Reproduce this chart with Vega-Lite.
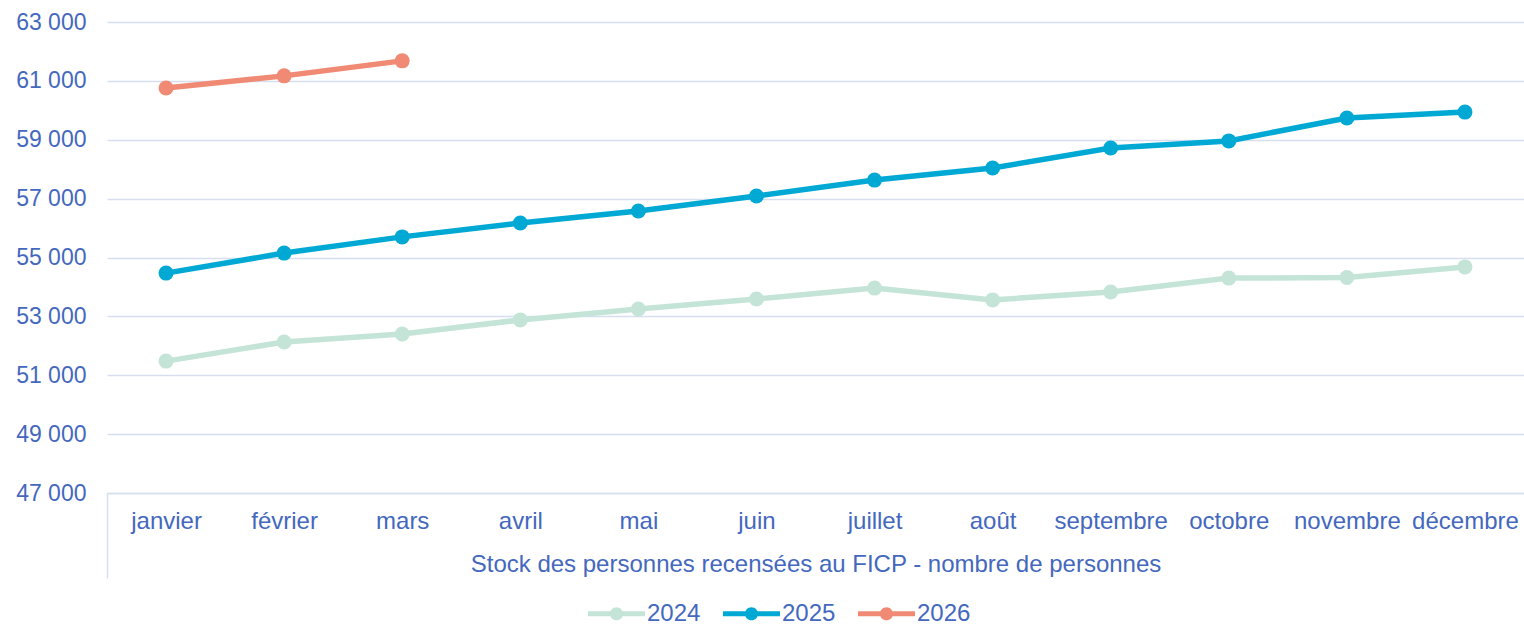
{
  "$schema": "https://vega.github.io/schema/vega-lite/v6.json",
  "autosize": {"type": "none"},
  "width": 1417,
  "height": 471,
  "padding": {"left": 107, "top": 22, "right": 0, "bottom": 132},
  "background": "white",
  "data": {
    "values": [
      {"mois": "janvier", "annee": "2024", "valeur": 51480},
      {"mois": "février", "annee": "2024", "valeur": 52130},
      {"mois": "mars", "annee": "2024", "valeur": 52400},
      {"mois": "avril", "annee": "2024", "valeur": 52880},
      {"mois": "mai", "annee": "2024", "valeur": 53250},
      {"mois": "juin", "annee": "2024", "valeur": 53590},
      {"mois": "juillet", "annee": "2024", "valeur": 53960},
      {"mois": "août", "annee": "2024", "valeur": 53560},
      {"mois": "septembre", "annee": "2024", "valeur": 53830},
      {"mois": "octobre", "annee": "2024", "valeur": 54300},
      {"mois": "novembre", "annee": "2024", "valeur": 54320},
      {"mois": "décembre", "annee": "2024", "valeur": 54680},
      {"mois": "janvier", "annee": "2025", "valeur": 54470},
      {"mois": "février", "annee": "2025", "valeur": 55150},
      {"mois": "mars", "annee": "2025", "valeur": 55700},
      {"mois": "avril", "annee": "2025", "valeur": 56170},
      {"mois": "mai", "annee": "2025", "valeur": 56580},
      {"mois": "juin", "annee": "2025", "valeur": 57090},
      {"mois": "juillet", "annee": "2025", "valeur": 57630},
      {"mois": "août", "annee": "2025", "valeur": 58040},
      {"mois": "septembre", "annee": "2025", "valeur": 58720},
      {"mois": "octobre", "annee": "2025", "valeur": 58960},
      {"mois": "novembre", "annee": "2025", "valeur": 59740},
      {"mois": "décembre", "annee": "2025", "valeur": 59940},
      {"mois": "janvier", "annee": "2026", "valeur": 60760},
      {"mois": "février", "annee": "2026", "valeur": 61170},
      {"mois": "mars", "annee": "2026", "valeur": 61680}
    ]
  },
  "encoding": {
    "x": {
      "field": "mois",
      "type": "nominal",
      "sort": ["janvier", "février", "mars", "avril", "mai", "juin", "juillet", "août", "septembre", "octobre", "novembre", "décembre"],
      "scale": {"type": "band", "paddingInner": 0, "paddingOuter": 0},
      "axis": {
        "title": "Stock des personnes recensées au FICP - nombre de personnes",
        "titleFont": "Liberation Sans",
        "titleFontSize": 24,
        "titleFontWeight": "normal",
        "titleColor": "#4468BE",
        "titleY": 59,
        "titleBaseline": "top",
        "labelFont": "Liberation Sans",
        "labelFontSize": 24,
        "labelColor": "#4468BE",
        "labelAngle": 0,
        "labelPadding": -69,
        "domain": true,
        "domainColor": "#D6DFF0",
        "domainWidth": 1.5,
        "ticks": true,
        "tickBand": "extent",
        "tickSize": 85,
        "tickWidth": 1.5,
        "tickColor": "#D6DFF0",
        "tickOpacity": {"condition": {"test": "datum.extra", "value": 1}, "value": 0},
        "grid": false
      }
    },
    "y": {
      "field": "valeur",
      "type": "quantitative",
      "scale": {"domain": [47000, 63000], "nice": false, "zero": false},
      "axis": {
        "title": null,
        "values": [47000, 49000, 51000, 53000, 55000, 57000, 59000, 61000, 63000],
        "labelExpr": "replace(format(datum.value, ','), ',', ' ')",
        "labelFont": "Liberation Sans",
        "labelFontSize": 23,
        "labelColor": "#4468BE",
        "labelPadding": 21,
        "domain": false,
        "ticks": false,
        "grid": true,
        "gridColor": "#D6DFF0",
        "gridWidth": 1.5
      }
    },
    "color": {
      "field": "annee",
      "type": "nominal",
      "scale": {"domain": ["2024", "2025", "2026"], "range": ["#C5E4D8", "#00A8D4", "#F08A74"]},
      "legend": {
        "title": null,
        "orient": "none",
        "legendX": 481,
        "legendY": 563,
        "direction": "horizontal",
        "labelFont": "Liberation Sans",
        "labelFontSize": 24,
        "labelColor": "#4468BE",
        "labelOffset": 2,
        "columnPadding": 22,
        "symbolType": "M-1,-0.09 L1,-0.09 L1,0.09 L-1,0.09 Z M-0.23,0 A0.23,0.23 0 1,1 0.23,0 A0.23,0.23 0 1,1 -0.23,0 Z",
        "symbolSize": 3249,
        "symbolStrokeWidth": 0,
        "symbolOpacity": 1
      }
    }
  },
  "layer": [
    {
      "mark": {"type": "line", "strokeWidth": 5.5}
    },
    {
      "mark": {"type": "point", "filled": true, "opacity": 1, "size": 225, "shape": "circle"}
    }
  ],
  "config": {
    "view": {"stroke": null}
  }
}
